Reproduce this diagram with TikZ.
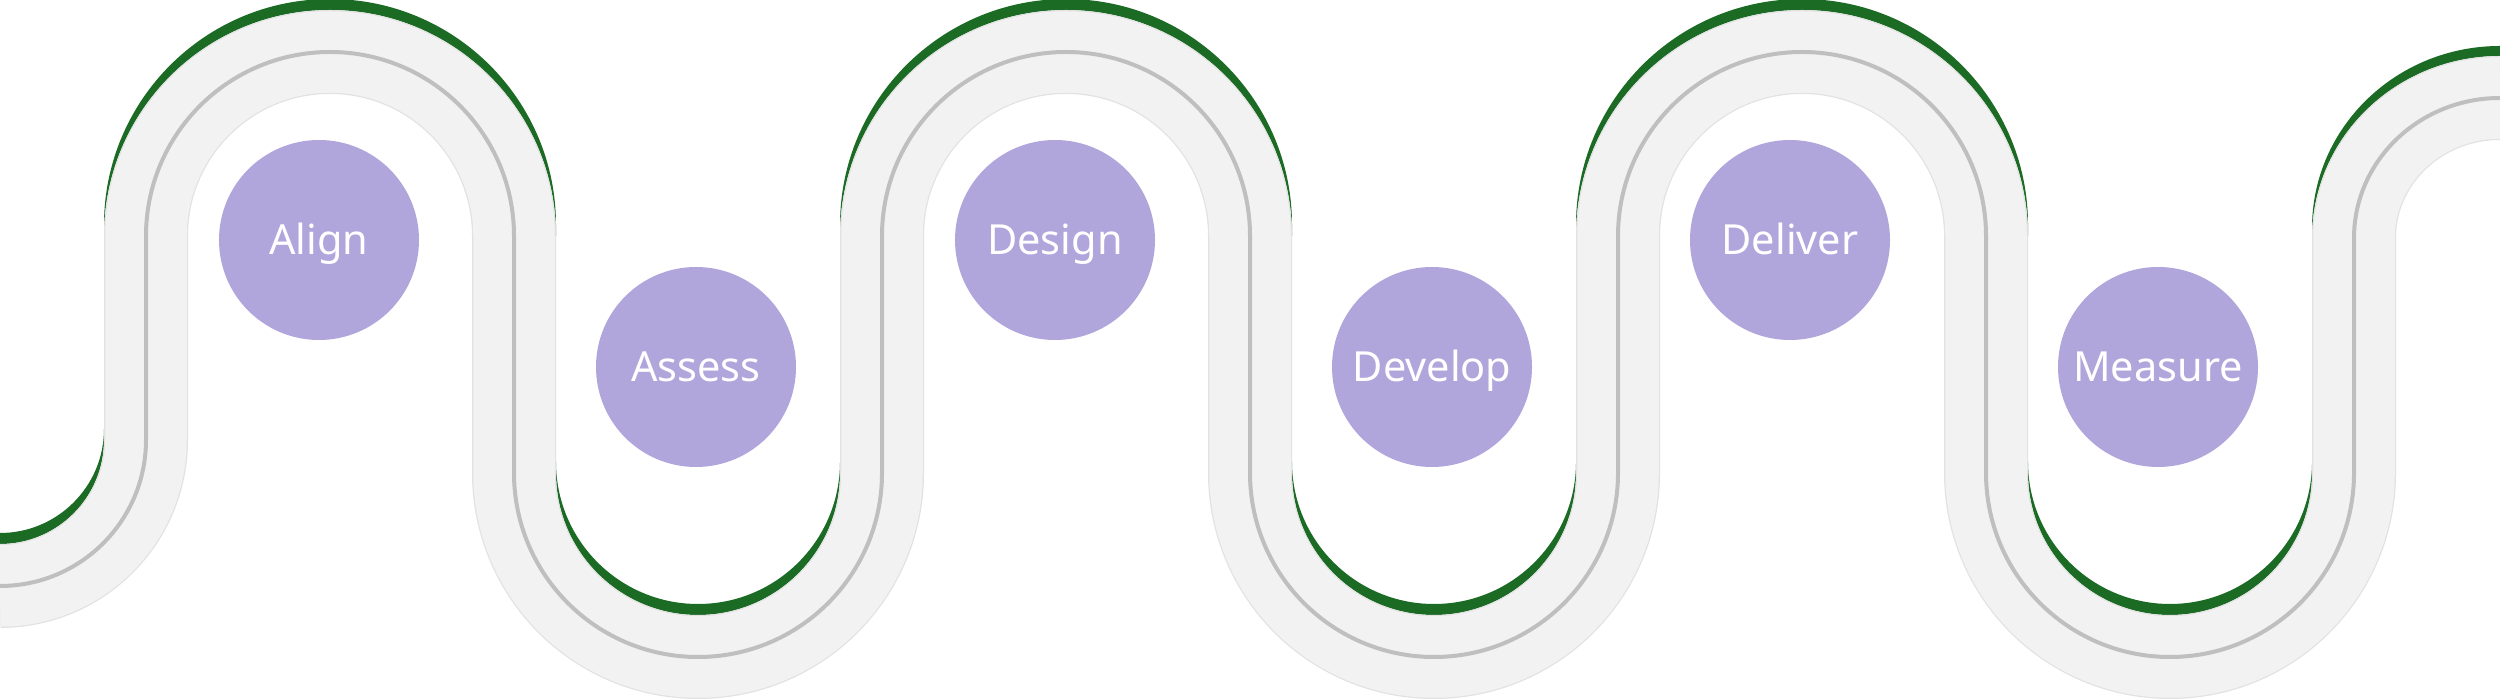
\documentclass[tikz,border=0pt]{standalone}
\usepackage{fontspec}
\setmainfont{Noto Sans}
\definecolor{band}{HTML}{F2F2F2}
\definecolor{bandedge}{HTML}{E2E2E2}
\definecolor{midline}{HTML}{BFBFBF}
\definecolor{leaf}{RGB}{27,107,36}
\definecolor{lav}{RGB}{176,166,220}
\begin{document}
\begin{tikzpicture}[
  stage/.style={circle, fill=lav, minimum size=2cm, inner sep=0pt, text=white,
    font=\fontsize{11.8}{14}\selectfont, text height=8.4pt, text depth=0pt},
  crescent/.style={fill=leaf},
  trackedge/.style={draw=bandedge, line width=0.84cm},
  trackband/.style={draw=band, line width=0.815cm},
  trackmid/.style={draw=midline, line width=0.04cm},
]
\useasboundingbox (0,0) rectangle (25,6.99);
\fill[white] (0,0) rectangle (25,6.99);
% green crescents on the top arcs
\foreach \cx in {3.30,10.66,18.02}
  \fill[crescent] ({\cx-2.26},4.74) arc[start angle=180,end angle=0,radius=2.26]
    -- ({\cx+2.26},4.63) arc[start angle=0,end angle=180,radius=2.26] -- cycle;
% green crescents on the bottom arcs
\foreach \cx in {6.98,14.34,21.70}
  \fill[crescent] ({\cx-1.42},2.26) arc[start angle=180,end angle=360,radius=1.42]
    -- ({\cx+1.42},2.37) arc[start angle=0,end angle=-180,radius=1.42] -- cycle;
% end pieces
\fill[crescent] (0,1.55) arc[start angle=-90,end angle=0,radius=1.04]
  -- (1.04,2.70) arc[start angle=0,end angle=-90,radius=1.04] -- cycle;
\fill[crescent] (23.12,4.71) arc[start angle=180,end angle=90,x radius=1.88,y radius=1.82]
  -- (25,6.43) arc[start angle=90,end angle=180,x radius=1.88,y radius=1.82] -- cycle;
% the track
\foreach \st in {trackedge,trackband,trackmid}
  \path[\st] (0,1.13) arc[start angle=-90,end angle=0,radius=1.46]
    -- (1.46,4.63) arc[start angle=180,end angle=0,radius=1.84]
    -- (5.14,2.26) arc[start angle=180,end angle=360,radius=1.84]
    -- (8.82,4.63) arc[start angle=180,end angle=0,radius=1.84]
    -- (12.50,2.26) arc[start angle=180,end angle=360,radius=1.84]
    -- (16.18,4.63) arc[start angle=180,end angle=0,radius=1.84]
    -- (19.86,2.26) arc[start angle=180,end angle=360,radius=1.84]
    -- (23.54,4.61) arc[start angle=180,end angle=90,x radius=1.46,y radius=1.40];
% stages
\node[stage] (align)   at (3.19,4.59)  {Align};
\node[stage] (assess)  at (6.96,3.32)  {Assess};
\node[stage] (design)  at (10.55,4.59) {Design};
\node[stage] (develop) at (14.32,3.32) {Develop};
\node[stage] (deliver) at (17.90,4.59) {Deliver};
\node[stage] (measure) at (21.58,3.32) {Measure};
\end{tikzpicture}
\end{document}
